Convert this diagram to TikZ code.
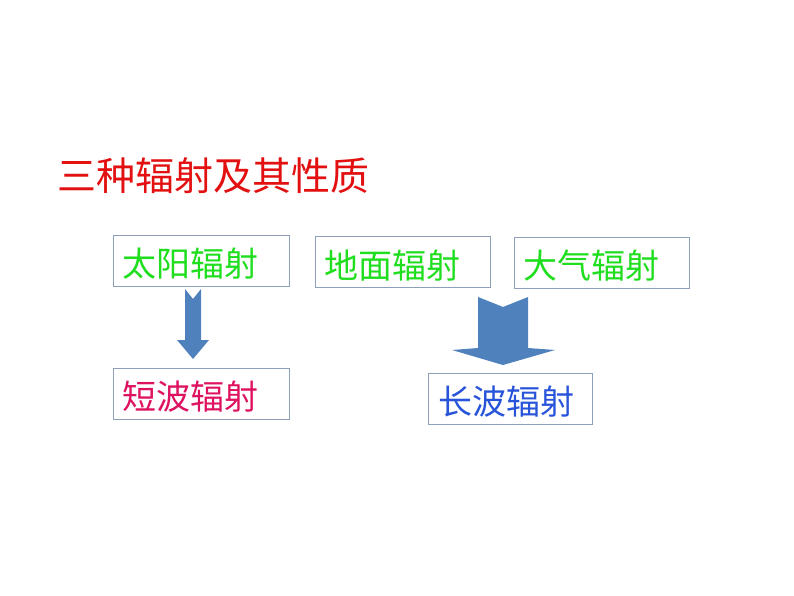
\documentclass[tikz,border=0pt]{standalone}
\usepackage{fontspec}
\setmainfont{Noto Sans CJK SC}
\definecolor{titlered}{RGB}{226,16,16}
\definecolor{boxgreen}{RGB}{30,222,30}
\definecolor{crimson}{RGB}{222,18,96}
\definecolor{longblue}{RGB}{40,84,218}
\definecolor{arrowblue}{RGB}{79,129,189}
\definecolor{boxline}{RGB}{140,160,188}
\begin{document}
\begin{tikzpicture}[x=1pt,y=-1pt,
  radbox/.style={draw=boxline,line width=0.9pt,rectangle,minimum height=51pt,
    inner xsep=9pt,inner ysep=0pt,align=left,text height=34pt,text depth=2pt,
    font=\fontsize{34}{36}\selectfont},
  blockarrow/.style={fill=arrowblue,draw=none}]
\useasboundingbox[fill=white] (0,0) rectangle (794,596);
\node[anchor=west,text=titlered,font=\fontsize{39}{42}\selectfont,inner sep=0pt] (title) at (57,176) {三种辐射及其性质};
\node[radbox,text=boxgreen,text width=158pt] (sun) at (201,260.5) {太阳辐射};
\node[radbox,text=boxgreen,text width=157pt] (ground) at (402.5,262) {地面辐射};
\node[radbox,text=boxgreen,text width=157pt] (atm) at (601.5,262.5) {大气辐射};
\node[radbox,text=crimson,text width=158pt] (short) at (201,393.5) {短波辐射};
\node[radbox,text=longblue,text width=144pt,inner xsep=10pt] (long) at (510,398.5) {长波辐射};
% small arrow
\fill[blockarrow] (185,289) -- (193,299) -- (201,289) -- (201,340) -- (209,340)
  -- (193,359) -- (177,340) -- (185,340) -- cycle;
% big arrow
\fill[blockarrow] (478,297) -- (503,307) -- (528,297) -- (528,348) -- (555,350)
  -- (503,365) -- (452,350) -- (478,348) -- cycle;
\end{tikzpicture}
\end{document}
